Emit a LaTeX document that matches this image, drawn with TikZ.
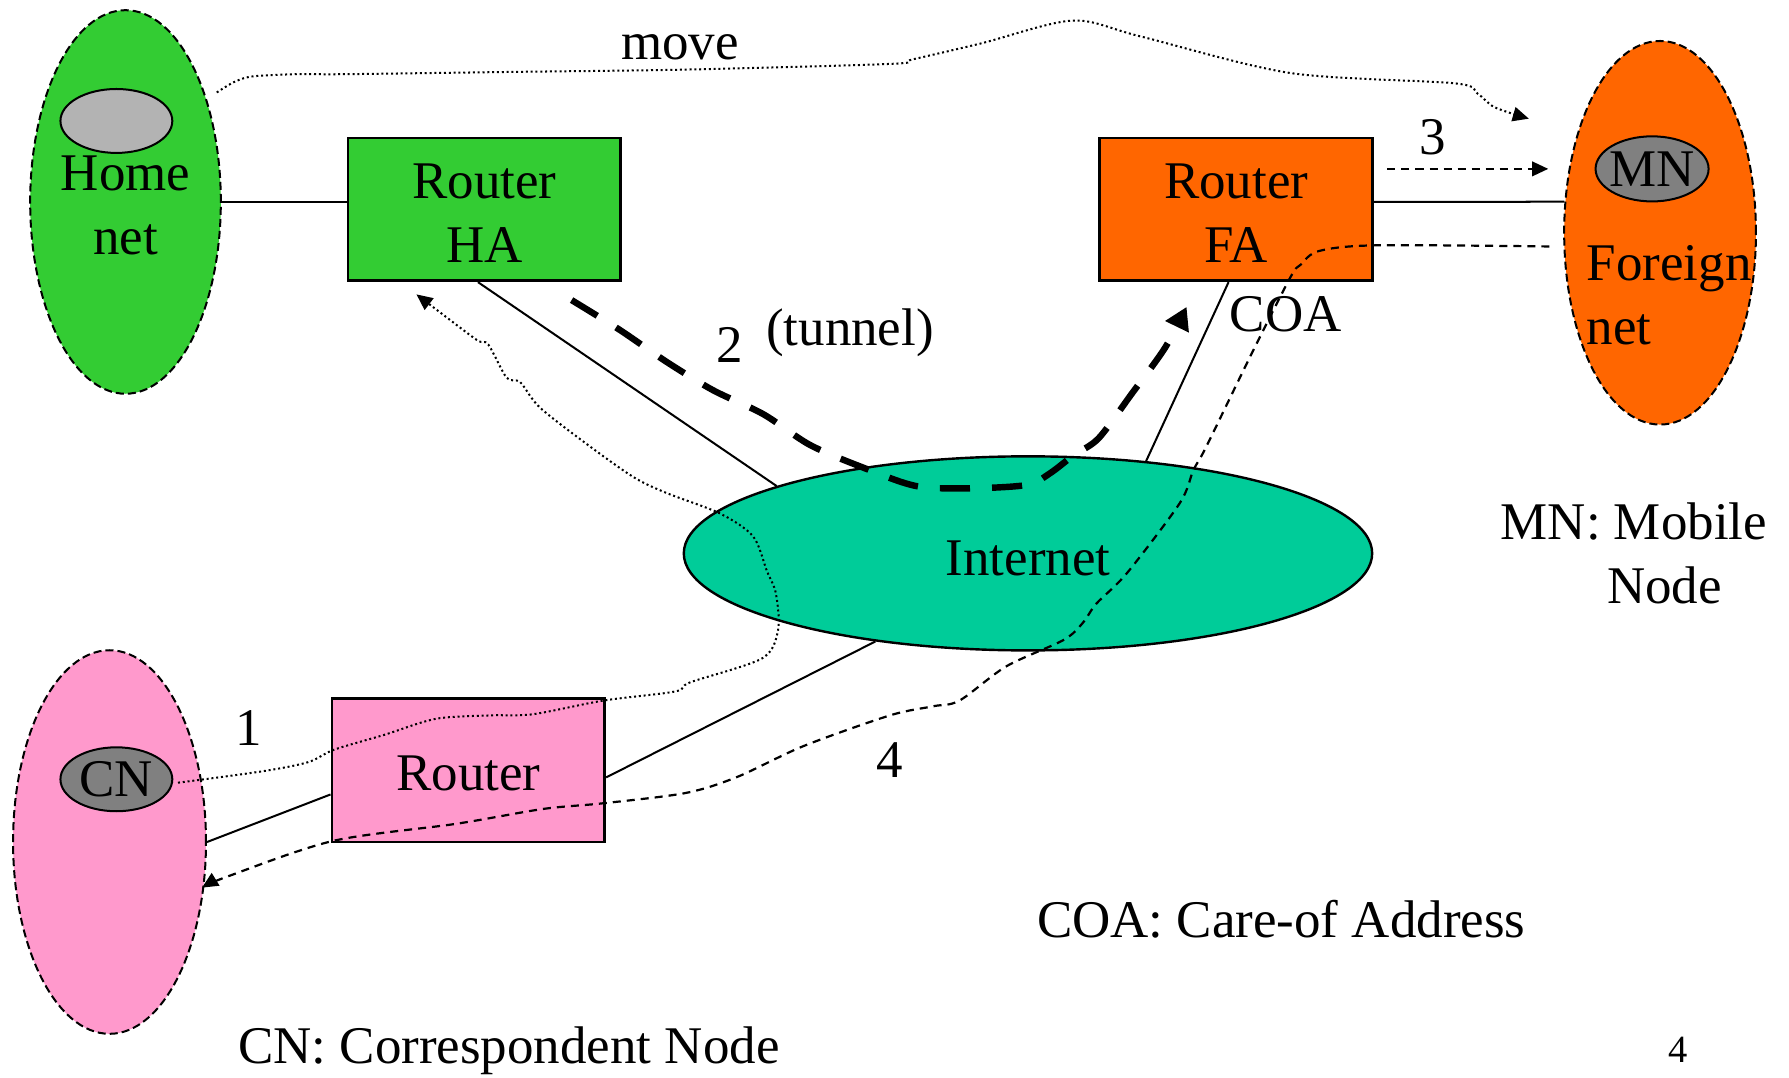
\documentclass[tikz,border=0pt]{standalone}
\usepackage{fontspec}
\setmainfont{Liberation Serif}
\usetikzlibrary{arrows.meta,shapes.geometric}
\definecolor{homegreen}{HTML}{33CC33}
\definecolor{fororange}{HTML}{FF6600}
\definecolor{cnpink}{HTML}{FF99CC}
\definecolor{netteal}{HTML}{00CC99}
\definecolor{hostlight}{HTML}{B3B3B3}
\definecolor{hostdark}{HTML}{808080}
\begin{document}
\begin{tikzpicture}[x=0.01cm,y=-0.01cm,
  every node/.style={font=\fontsize{13.2}{15.9}\selectfont, inner sep=0pt},
  netarea/.style={ellipse, draw, line width=0.5pt, dash pattern=on 2pt off 1pt,
                  minimum width=1.67cm, minimum height=3.36cm},
  host/.style={ellipse, draw, line width=0.5pt, minimum width=0.98cm, minimum height=0.56cm},
  routerbox/.style={rectangle, draw, line width=0.7pt, minimum width=2.39cm,
                    minimum height=1.25cm},
  link/.style={line width=0.5pt},
  dotpath/.style={line width=0.5pt, dash pattern=on 0.5pt off 0.7pt},
  dashpath/.style={line width=0.55pt, dash pattern=on 2pt off 1.5pt},
  tunnelpath/.style={line width=1.6pt, dash pattern=on 7.5pt off 5.5pt},
  smalltip/.style={-{Triangle[length=4pt,width=3.6pt]}},
  bigtip/.style={-{Triangle[length=5.5pt,width=6.2pt]}}
]
\useasboundingbox (0,0) rectangle (1568,944);

% networks and routers
\node[netarea, fill=homegreen] (home) at (110,177) {};
\node[host, fill=hostlight] (homehost) at (102,106) {};
\node[align=center] (hometext) at (110,180) {Home\\net};

\node[routerbox, fill=homegreen] (ha) at (424.5,183.5) {};
\node[align=center] (hatext) at (424.5,186.5) {Router\\HA};
\node[routerbox, fill=fororange] (fa) at (1083.5,183.5) {};
\node[align=center] (fatext) at (1083.5,186.5) {Router\\FA};

\node[netarea, fill=fororange, minimum width=1.68cm] (foreign) at (1455,204) {};
\node[host, fill=hostdark, minimum width=0.99cm, minimum height=0.57cm] (mn) at (1448,148) {};
\node (mntext) at (mn) {MN};
\node[anchor=west, align=left] (foreigntext) at (1390,259) {Foreign\\net};

\node[ellipse, draw, line width=0.6pt, fill=netteal, minimum width=6.03cm,
      minimum height=1.70cm] (internet) at (901,485) {};
\node (internettext) at (901,489) {Internet};

\node[netarea, fill=cnpink, minimum width=1.69cm] (cnnet) at (96,738) {};
\node[host, fill=hostdark] (cn) at (102,683) {};
\node (cntext) at (cn) {CN};
\node[routerbox, fill=cnpink, minimum height=1.26cm] (rt) at (410.5,675) {};
\node (rttext) at (410.5,678) {Router};

% wiring
\draw[link] (home.east) -- (home.east -| ha.west);
\draw[link] ([yshift=0.065cm]fa.east) -- (foreign.162);
\draw[link] (ha.-95) -- (internet.165);
\draw[link] (fa.-96) -- (internet.38);
\draw[link] (rt.-3) -- (internet.210);
\draw[link] (cnnet.east) -- (rt.190);

% the mobile node moves to the foreign network
\draw[dotpath, smalltip] plot[smooth, tension=0.5] coordinates {
  (190,81) (205,72) (221,67) (260,65) (302,65) (450,63) (600,61) (780,56) (800,52)
  (860,38) (940,18) (1000,32) (1131,64) (1275,73) (1295,82) (1310,94) (1340,104)};

% 1: CN sends to the home address
\draw[dotpath, smalltip] plot[smooth, tension=0.5] coordinates {
  (156,686) (230,676) (270,668) (293,657) (337,644) (382,630) (430,627) (467,626)
  (529,614) (592,606) (605,598) (668,577) (682,552) (680,520) (672,500) (660,470)
  (631,450) (584,432) (555,418) (514,389) (473,357) (456,335) (444,331) (428,302)
  (418,298) (386,274) (365,258)};

% 2: tunnel from HA to FA
\draw[tunnelpath, bigtip] plot[smooth, tension=0.5] coordinates {
  (501,263) (543,289) (584,317) (625,342) (669,363) (710,390) (757,410) (803,426)
  (850,428) (900,425) (920,415) (941,399) (963,384) (992,345) (1021,305) (1040,269)};

% 3: FA delivers to MN
\coordinate (fwdA) at (1216,148);
\coordinate (fwdB) at (1357,148);
\draw[dashpath, smalltip] (fwdA) -- (fwdB);

% 4: MN answers CN directly
\draw[dashpath, smalltip] plot[smooth, tension=0.5] coordinates {
  (1358,216) (1206,215) (1156,220) (1140,232) (1131,243) (1097,310) (1057,392)
  (1046,412) (1034,441) (988,502) (961,529) (949,546) (932,561) (882,584) (841,614)
  (818,619) (780,627) (704,654) (646,681) (601,695) (529,704) (476,709) (400,722)
  (292,737) (200,768) (177,778)};

% labels
\node (movelabel) at (596,41) {move};
\node (lbl3) at (1256,120) {3};
\node (lbl2) at (640,302) {2};
\node (tunnellabel) at (745,292) {(tunnel)};
\node (coalabel) at (1127,275) {COA};
\node (lbl1) at (218,638) {1};
\node (lbl4) at (780,666) {4};
\node (mnlegend) at (1432,457) {MN: Mobile};
\node (mnlegendb) at (1459,513) {Node};
\node (coalegend) at (1123,806) {COA: Care-of Address};
\node (cnlegend) at (446,921) {CN: Correspondent Node};
\node[font=\fontsize{9.6}{11}\selectfont] (pagenum) at (1471,920) {4};
\end{tikzpicture}
\end{document}
